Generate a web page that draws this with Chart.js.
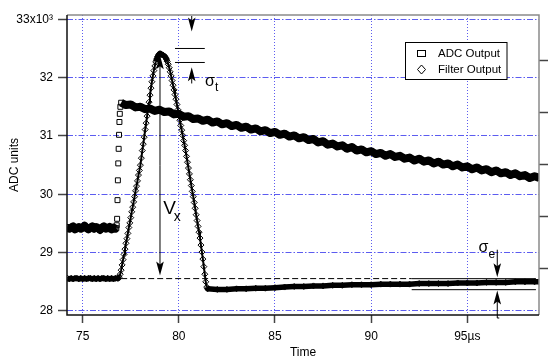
<!DOCTYPE html>
<html>
<head>
<meta charset="utf-8">
<script src="https://cdn.jsdelivr.net/npm/chart.js@4"></script>
<style>
html, body { margin: 0; padding: 0; background: #fff; }
canvas { display: block; }
</style>
</head>
<body>
<canvas id="adcChart" width="559" height="362"></canvas>
<script>
// axis ticks
const xTicks = [75, 80, 85, 90, 95];
const yTicks = [28, 29, 30, 31, 32, 33];
const rightTicks = [1, 2, 3, 4, 5];
const seriesNames = ["ADC Output", "Filter Output"];

// ADC Output, x10^3 ADC units vs time in us
const adcTime = [
    74.20, 74.30, 74.40, 74.50, 74.60, 74.70, 74.80, 74.90, 75.00, 75.10,
    75.20, 75.30, 75.40, 75.50, 75.60, 75.70, 75.80, 75.90, 76.00, 76.10,
    76.20, 76.30, 76.40, 76.50, 76.60, 76.70, 76.75,
    76.77, 76.79, 76.81, 76.83, 76.85, 76.87, 76.89, 76.91, 76.93, 76.96,
    77.00, 77.25, 77.50, 77.75, 78.00, 78.25, 78.50, 78.75, 79.00, 79.25,
    79.50, 79.75, 80.00, 80.25, 80.50, 80.75, 81.00, 81.25, 81.50, 81.75,
    82.00, 82.25, 82.50, 82.75, 83.00, 83.25, 83.50, 83.75, 84.00, 84.25,
    84.50, 84.75, 85.00, 85.25, 85.50, 85.75, 86.00, 86.25, 86.50, 86.75,
    87.00, 87.25, 87.50, 87.75, 88.00, 88.25, 88.50, 88.75, 89.00, 89.25,
    89.50, 89.75, 90.00, 90.25, 90.50, 90.75, 91.00, 91.25, 91.50, 91.75,
    92.00, 92.25, 92.50, 92.75, 93.00, 93.25, 93.50, 93.75, 94.00, 94.25,
    94.50, 94.75, 95.00, 95.25, 95.50, 95.75, 96.00, 96.25, 96.50, 96.75,
    97.00, 97.25, 97.50, 97.75, 98.00, 98.25, 98.50, 98.75
];
const adcValue = [
    29.44, 29.41, 29.43, 29.45, 29.40, 29.42, 29.44, 29.41, 29.43, 29.46,
    29.42, 29.40, 29.43, 29.45, 29.41, 29.44, 29.42, 29.39, 29.43, 29.45,
    29.41, 29.42, 29.44, 29.40, 29.43, 29.41, 29.42,
    29.47, 29.58, 29.90, 30.24, 30.53, 30.78, 31.02, 31.24, 31.38, 31.50,
    31.57, 31.53, 31.54, 31.49, 31.50, 31.46, 31.47, 31.43, 31.45, 31.41,
    31.42, 31.37, 31.38, 31.33, 31.34, 31.29, 31.30, 31.26, 31.28, 31.23,
    31.25, 31.20, 31.22, 31.17, 31.19, 31.14, 31.16, 31.11, 31.13, 31.08,
    31.10, 31.05, 31.07, 31.02, 31.04, 30.99, 31.01, 30.96, 30.98, 30.93,
    30.95, 30.89, 30.91, 30.85, 30.87, 30.82, 30.84, 30.78, 30.81, 30.75,
    30.77, 30.72, 30.74, 30.69, 30.71, 30.66, 30.69, 30.64, 30.66, 30.61,
    30.63, 30.58, 30.61, 30.56, 30.58, 30.53, 30.56, 30.51, 30.53, 30.48,
    30.51, 30.46, 30.48, 30.43, 30.46, 30.41, 30.43, 30.38, 30.41, 30.36,
    30.38, 30.33, 30.36, 30.31, 30.33, 30.28, 30.31, 30.28
];

// Filter Output
const filterTime = [
    74.20, 74.30, 74.40, 74.50, 74.60, 74.70, 74.80, 74.90, 75.00, 75.10,
    75.20, 75.30, 75.40, 75.50, 75.60, 75.70, 75.80, 75.90, 76.00, 76.10,
    76.20, 76.30, 76.40, 76.50, 76.60, 76.70, 76.80, 76.85,
    76.90, 76.95, 77.00, 77.05, 77.10, 77.15, 77.20, 77.25, 77.30, 77.35,
    77.40, 77.45, 77.50, 77.55, 77.60, 77.65, 77.70, 77.75, 77.80, 77.85,
    77.90, 77.95, 78.00, 78.05, 78.10, 78.15, 78.20, 78.25, 78.30, 78.35,
    78.40, 78.45, 78.50, 78.55, 78.60, 78.65, 78.70, 78.75, 78.80, 78.85,
    78.90, 78.95, 79.00,
    79.05, 79.10, 79.15, 79.20, 79.25, 79.30, 79.35, 79.40, 79.45, 79.50,
    79.55, 79.60, 79.65, 79.70, 79.75, 79.80, 79.85, 79.90, 79.95, 80.00,
    80.05, 80.10, 80.15, 80.20, 80.25, 80.30, 80.35, 80.40, 80.45, 80.50,
    80.55, 80.60, 80.65, 80.70, 80.75, 80.80, 80.85, 80.90, 80.95, 81.00,
    81.05, 81.10, 81.15, 81.20, 81.25, 81.30, 81.35, 81.40, 81.45, 81.50,
    82.00, 82.50, 83.00, 83.50, 84.00, 84.50, 85.00, 85.50, 86.00, 86.50,
    87.00, 87.50, 88.00, 88.50, 89.00, 89.50, 90.00, 90.50, 91.00, 91.50,
    92.00, 92.50, 93.00, 93.50, 94.00, 94.50, 95.00, 95.50, 96.00, 96.50,
    97.00, 97.50, 98.00, 98.50, 98.75
];
const filterValue = [
    28.56, 28.55, 28.56, 28.55, 28.56, 28.56, 28.55, 28.56, 28.55, 28.56,
    28.55, 28.56, 28.56, 28.55, 28.56, 28.55, 28.56, 28.55, 28.56, 28.56,
    28.55, 28.56, 28.55, 28.56, 28.55, 28.56, 28.56, 28.56,
    28.58, 28.63, 28.70, 28.79, 28.88, 28.97, 29.06, 29.16, 29.24, 29.33,
    29.43, 29.51, 29.60, 29.70, 29.78, 29.87, 29.96, 30.06, 30.14, 30.23,
    30.33, 30.41, 30.50, 30.62, 30.75, 30.86, 30.98, 31.11, 31.22, 31.34,
    31.47, 31.58, 31.70, 31.82, 31.93, 32.03, 32.12, 32.20, 32.27, 32.32,
    32.36, 32.39, 32.41,
    32.41, 32.40, 32.39, 32.38, 32.37, 32.35, 32.32, 32.28, 32.23, 32.17,
    32.10, 32.03, 31.95, 31.87, 31.79, 31.71, 31.63, 31.54, 31.45, 31.36,
    31.27, 31.18, 31.10, 31.01, 30.92, 30.84, 30.75, 30.65, 30.55, 30.45,
    30.35, 30.25, 30.15, 30.05, 29.96, 29.86, 29.76, 29.65, 29.55, 29.45,
    29.35, 29.25, 29.13, 29.01, 28.89, 28.76, 28.63, 28.50, 28.41, 28.38,
    28.37, 28.37, 28.38, 28.38, 28.39, 28.39, 28.40, 28.41, 28.42, 28.42,
    28.43, 28.43, 28.44, 28.44, 28.45, 28.45, 28.45, 28.46, 28.46, 28.46,
    28.46, 28.47, 28.47, 28.47, 28.47, 28.48, 28.48, 28.48, 28.49, 28.49,
    28.49, 28.50, 28.50, 28.50, 28.50
];

// annotation levels (same units as the axes)
const baseLevel = 28.555;
const peakTime = 79.02;
const sigmaT = { top: 32.50, bottom: 32.26, from: 79.8, to: 81.35, at: 80.67 };
const sigmaE = { top: 28.554, bottom: 28.365, from: 92.11, to: 98.57, at: 96.56 };

const gridBlue = "rgb(92, 92, 240)";
const fontFamily = "'Liberation Sans', Arial, Helvetica, sans-serif";
Chart.defaults.font.family = fontFamily;
Chart.defaults.color = "#000";

const steep = (c, lim) =>
    Math.abs((c.p1.parsed.y - c.p0.parsed.y) / (c.p1.parsed.x - c.p0.parsed.x)) > lim;

function arrow(ctx, x, y0, y1) {
    const dir = y1 > y0 ? 1 : -1;
    ctx.beginPath();
    ctx.moveTo(x, y0);
    ctx.lineTo(x, y1 - dir * 8);
    ctx.stroke();
    ctx.beginPath();
    ctx.moveTo(x, y1);
    ctx.lineTo(x - 3.8, y1 - dir * 14);
    ctx.lineTo(x, y1 - dir * 11);
    ctx.lineTo(x + 3.8, y1 - dir * 14);
    ctx.closePath();
    ctx.fill();
}

function subLabel(ctx, main, sub, x, y, mainSize, subSize, dx, dy) {
    ctx.font = mainSize + "px " + fontFamily;
    ctx.textAlign = "left";
    ctx.textBaseline = "alphabetic";
    ctx.fillText(main, x, y);
    ctx.font = subSize + "px " + fontFamily;
    ctx.fillText(sub, x + dx, y + dy);
}

const annotate = {
    id: "annotate",
    afterDatasetsDraw(chart) {
        const { ctx, chartArea: a, scales: { x, y } } = chart;
        const px = v => x.getPixelForValue(v);
        const py = v => y.getPixelForValue(v);
        ctx.save();

        // frame
        ctx.lineWidth = 1.5;
        ctx.strokeStyle = "#8a8a8a";
        ctx.beginPath();
        ctx.moveTo(a.left, a.top);
        ctx.lineTo(a.right, a.top);
        ctx.lineTo(a.right, a.bottom);
        ctx.stroke();
        ctx.strokeStyle = "#111";
        ctx.beginPath();
        ctx.moveTo(a.left, a.top);
        ctx.lineTo(a.left, a.bottom);
        ctx.lineTo(a.right, a.bottom);
        ctx.stroke();

        ctx.strokeStyle = "#000";
        ctx.fillStyle = "#000";
        ctx.lineWidth = 1;

        // baseline, dashed then solid
        ctx.setLineDash([6, 3]);
        ctx.beginPath();
        ctx.moveTo(px(77.0), py(baseLevel));
        ctx.lineTo(px(sigmaE.from), py(baseLevel));
        ctx.stroke();
        ctx.setLineDash([]);

        // V_x
        const vx = px(peakTime);
        const vTop = py(32.385), vBot = py(28.61);
        arrow(ctx, vx, (vTop + vBot) / 2, vTop);
        arrow(ctx, vx, (vTop + vBot) / 2, vBot);
        subLabel(ctx, "V", "x", px(79.19), py(29.67), 19, 14, 10.5, 7);

        // sigma_t
        ctx.beginPath();
        ctx.moveTo(px(sigmaT.from), py(sigmaT.top));
        ctx.lineTo(px(sigmaT.to), py(sigmaT.top));
        ctx.moveTo(px(sigmaT.from), py(sigmaT.bottom));
        ctx.lineTo(px(sigmaT.to), py(sigmaT.bottom));
        ctx.stroke();
        const tx = px(sigmaT.at);
        arrow(ctx, tx, a.top + 1, py(32.79));
        arrow(ctx, tx, py(31.90), py(32.18));
        subLabel(ctx, "σ", "t", px(81.36), py(31.86), 16, 12, 10, 5);

        // sigma_e
        ctx.beginPath();
        ctx.moveTo(px(sigmaE.from), py(sigmaE.top));
        ctx.lineTo(px(sigmaE.to), py(sigmaE.top));
        ctx.moveTo(px(sigmaE.from), py(sigmaE.bottom));
        ctx.lineTo(px(sigmaE.to), py(sigmaE.bottom));
        ctx.stroke();
        const ex = px(sigmaE.at);
        arrow(ctx, ex, py(29.05), py(28.58));
        arrow(ctx, ex, a.bottom + 3, py(28.353));
        ctx.beginPath();
        ctx.moveTo(ex, a.bottom + 3);
        ctx.lineTo(ex + 2, a.bottom + 3);
        ctx.stroke();
        subLabel(ctx, "σ", "e", px(95.58), py(29.005), 16, 12, 10, 6);

        // legend
        const lx = 405.5, ly = 42.5, lw = 101.5, lh = 37;
        ctx.fillStyle = "#fff";
        ctx.fillRect(lx, ly, lw, lh);
        ctx.strokeRect(lx, ly, lw, lh);
        ctx.fillStyle = "#000";
        ctx.strokeRect(417.5, 50.5, 8, 6);
        ctx.beginPath();
        ctx.moveTo(421.5, 65);
        ctx.lineTo(425.5, 69.5);
        ctx.lineTo(421.5, 74);
        ctx.lineTo(417.5, 69.5);
        ctx.closePath();
        ctx.stroke();
        ctx.font = "11.5px " + fontFamily;
        ctx.textAlign = "left";
        ctx.textBaseline = "middle";
        ctx.fillText(seriesNames[0], 438, 54);
        ctx.fillText(seriesNames[1], 438, 70);

        ctx.restore();
    }
};

const ctx = document.getElementById("adcChart").getContext("2d");

new Chart(ctx, {
    type: "line",
    data: {
        datasets: [
            {
                label: seriesNames[0],
                data: adcTime.map((t, i) => ({ x: t, y: adcValue[i] })),
                borderColor: "#000",
                borderWidth: 8,
                borderJoinStyle: "round",
                pointStyle: "rect",
                pointRadius: 3.5,
                pointBorderWidth: 1,
                pointBorderColor: "#000",
                pointBackgroundColor: "rgba(0,0,0,0)",
                segment: {
                    borderColor: c => steep(c, 1) ? "rgba(0,0,0,0)" : "#000"
                }
            },
            {
                label: seriesNames[1],
                data: filterTime.map((t, i) => ({ x: t, y: filterValue[i] })),
                borderColor: "#000",
                borderWidth: 5.5,
                borderJoinStyle: "round",
                pointStyle: "rectRot",
                pointRadius: 3,
                pointBorderWidth: 1,
                pointBorderColor: "#000",
                pointBackgroundColor: "rgba(0,0,0,0)",
                segment: {
                    borderWidth: c => steep(c, 1) ? 2 : 5.5
                }
            }
        ]
    },
    options: {
        responsive: false,
        animation: false,
        events: [],
        layout: { padding: { top: 15, left: 0, right: 0, bottom: 0 } },
        plugins: {
            legend: { display: false },
            tooltip: { enabled: false }
        },
        scales: {
            x: {
                type: "linear",
                min: 74.184,
                max: 98.73,
                afterBuildTicks: s => { s.ticks = xTicks.map(v => ({ value: v })); },
                afterFit: s => { s.height = 47; },
                ticks: {
                    padding: 6,
                    font: { size: 12 },
                    callback: v => v === 95 ? "95µs" : String(v)
                },
                grid: {
                    color: gridBlue,
                    lineWidth: 1,
                    tickLength: 8,
                    tickColor: "#444",
                    tickWidth: 1.5,
                    tickBorderDash: []
                },
                border: { display: false, dash: [1, 2] },
                title: {
                    display: true,
                    text: "Time",
                    font: { size: 12 },
                    padding: { top: 0, bottom: 2 }
                }
            },
            y: {
                type: "linear",
                position: "left",
                min: 27.931,
                max: 33.074,
                afterBuildTicks: s => { s.ticks = yTicks.map(v => ({ value: v })); },
                afterFit: s => { s.width = 67; },
                ticks: {
                    padding: 5,
                    font: { size: 12 },
                    callback: v => v === 33 ? "33x10³" : String(v)
                },
                grid: {
                    color: gridBlue,
                    lineWidth: 1,
                    tickLength: 9,
                    tickColor: "#444",
                    tickWidth: 1.5,
                    tickBorderDash: []
                },
                border: { display: false, dash: [6, 2, 1.5, 2] },
                title: {
                    display: true,
                    text: "ADC units",
                    font: { size: 12 },
                    padding: { top: 7, bottom: 0 }
                }
            },
            y2: {
                type: "linear",
                position: "right",
                min: 0.11,
                max: 5.879,
                afterBuildTicks: s => { s.ticks = rightTicks.map(v => ({ value: v })); },
                afterFit: s => { s.width = 20; },
                ticks: { display: false },
                grid: {
                    drawOnChartArea: false,
                    tickLength: 9,
                    tickColor: "#444",
                    tickWidth: 1.5
                },
                border: { display: false }
            }
        }
    },
    plugins: [annotate]
});
</script>
</body>
</html>
